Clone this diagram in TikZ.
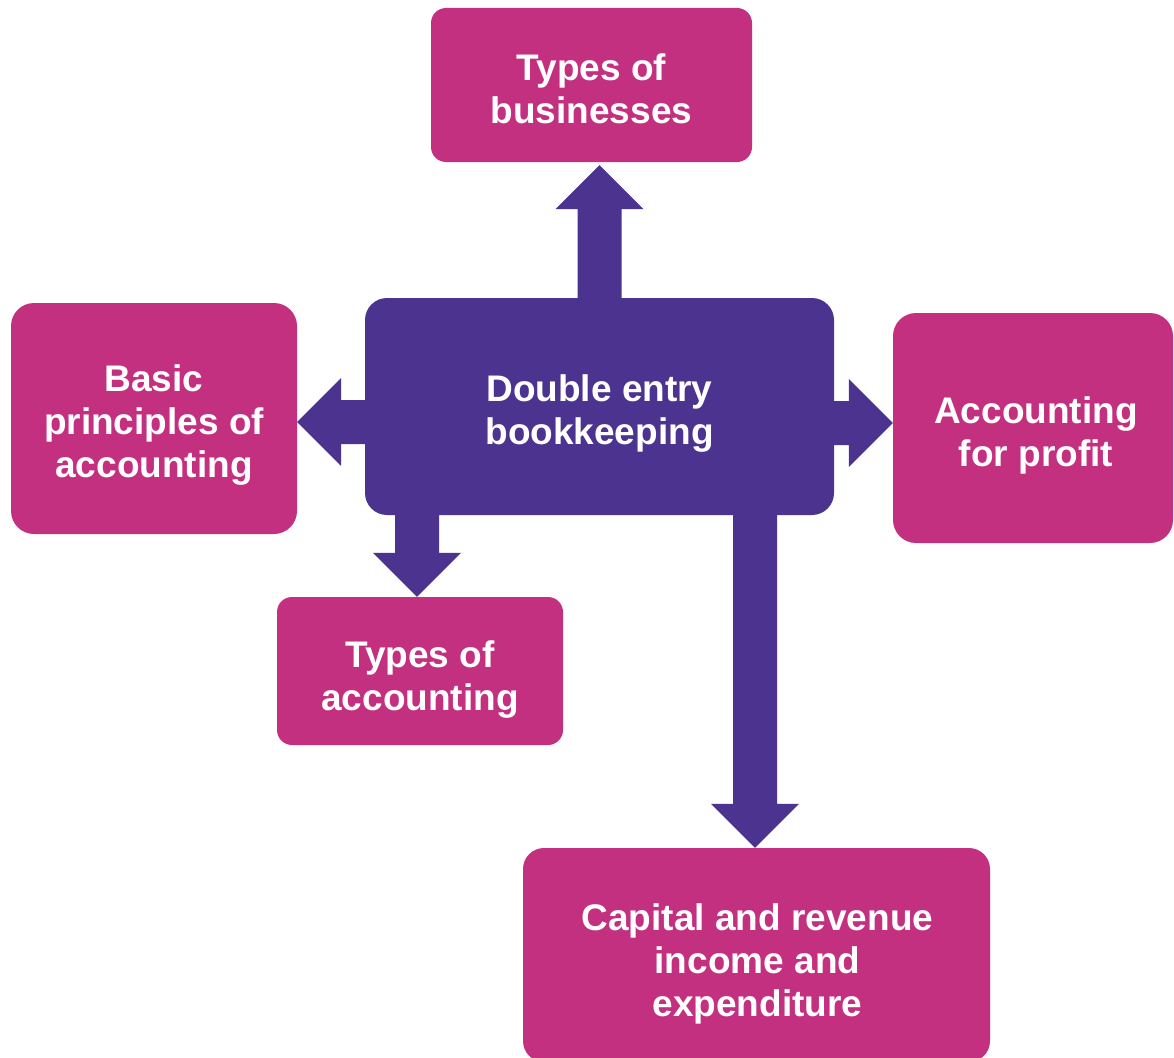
\documentclass[tikz,border=0pt]{standalone}
\usepackage{fontspec}
\setmainfont{Liberation Sans}
\usetikzlibrary{calc}
\definecolor{boxpink}{RGB}{196,48,128}
\definecolor{hubpurple}{RGB}{75,51,143}

% Block arrow: shaft starts at #1, tip sits at #2
\newcommand\blockarrowpath[2]{%
  \fill[blockarrow]
    ($(#1)!22pt!90:(#2)$) --
    ($(#2)!44pt!(#1)!22pt!90:(#2)$) --
    ($(#2)!44pt!(#1)!44pt!90:(#2)$) --
    (#2) --
    ($(#2)!44pt!(#1)!44pt!-90:(#2)$) --
    ($(#2)!44pt!(#1)!22pt!-90:(#2)$) --
    ($(#1)!22pt!-90:(#2)$) -- cycle;}

\begin{document}
\begin{tikzpicture}[x=1pt,y=-1pt,
  topic/.style={fill=boxpink, inner sep=0pt},
  hub/.style={topic, fill=hubpurple},
  caption/.style={text=white, align=center, inner sep=0pt,
                  font=\bfseries\fontsize{37}{43}\selectfont},
  blockarrow/.style={fill=hubpurple}]
\useasboundingbox (0,0) rectangle (1174,1057);

% central topic
\node[hub, minimum width=469pt, minimum height=217pt, rounded corners=22pt]
  (c) at (599.5,406.5) {};

% surrounding topics
\node[topic, minimum width=321pt, minimum height=154pt, rounded corners=15pt]
  (t) at (591.5,85) {};
\node[topic, minimum width=286pt, minimum height=231pt, rounded corners=23pt]
  (l) at (154,418.5) {};
\node[topic, minimum width=280pt, minimum height=230pt, rounded corners=23pt]
  (r) at (1033,428) {};
\node[topic, minimum width=286pt, minimum height=148pt, rounded corners=15pt]
  (a) at (420,671) {};
\node[topic, minimum width=467pt, minimum height=214pt, rounded corners=21pt]
  (k) at (756.5,955) {};

% captions
\node[caption] (c-text) at ($(c)+(0,7)$) {Double entry\\bookkeeping};
\node[caption] (t-text) at ($(t)+(0,4)$) {Types of\\businesses};
\node[caption] (l-text) at ($(l)+(0,7)$) {Basic\\principles of\\accounting};
\node[caption] (r-text) at ($(r)+(3,7)$) {Accounting\\for profit};
\node[caption] (a-text) at ($(a)+(0,9)$) {Types of\\accounting};
\node[caption] (k-text) at ($(k)+(1,9)$) {Capital and revenue\\income and\\expenditure};

% arrow anchors
\coordinate (upS) at (c.north);
\coordinate (upT) at ($(t.south -| c.north)+(0,3)$);
\coordinate (lfS) at ($(c.west)+(0,15.5)$);
\coordinate (lfT) at (l.east |- lfS);
\coordinate (rtS) at ($(c.east)+(0,16.5)$);
\coordinate (rtT) at (r.west |- rtS);
\coordinate (dnS) at ($(c.south -| a.north)+(-3,0)$);
\coordinate (dnT) at (dnS |- a.north);
\coordinate (lgS) at ($(c.south)+(155.5,0)$);
\coordinate (lgT) at (lgS |- k.north);

% arrows from the central topic
\blockarrowpath{upS}{upT}
\blockarrowpath{lfS}{lfT}
\blockarrowpath{rtS}{rtT}
\blockarrowpath{dnS}{dnT}
\blockarrowpath{lgS}{lgT}
\end{tikzpicture}
\end{document}
